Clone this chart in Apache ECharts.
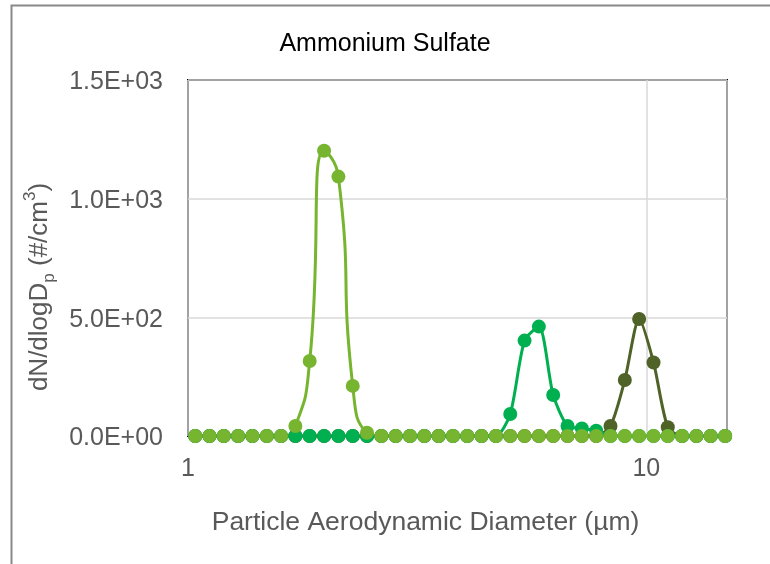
<!DOCTYPE html>
<html>
<head>
<meta charset="utf-8">
<script src="https://cdn.jsdelivr.net/npm/echarts@6/dist/echarts.min.js"></script>
<style>
html,body{margin:0;padding:0;background:#fff;}
#chart{width:770px;height:564px;}
</style>
</head>
<body>
<div id="chart"></div>
<script>
// Particle aerodynamic diameters (µm), APS channel midpoints
var diameters = [1.037, 1.114, 1.197, 1.286, 1.382, 1.486, 1.596, 1.715, 1.843, 1.981,
  2.129, 2.288, 2.458, 2.642, 2.839, 3.051, 3.278, 3.523, 3.786, 4.068,
  4.371, 4.698, 5.048, 5.425, 5.829, 6.264, 6.732, 7.234, 7.774, 8.354,
  8.977, 9.647, 10.37, 11.14, 11.97, 12.86, 13.82, 14.86];

// dN/dlogDp values (#/cm3)
var seriesSmall = [0, 0, 0, 0, 0, 0, 0, 42, 316, 1202,
  1093, 211, 14, 0, 0, 0, 0, 0, 0, 0,
  0, 0, 0, 0, 0, 0, 0, 0, 0, 0,
  0, 0, 0, 0, 0, 0, 0, 0];
var seriesMedium = [0, 0, 0, 0, 0, 0, 0, 0, 0, 0,
  0, 0, 0, 0, 0, 0, 0, 0, 0, 0,
  0, 0, 93, 402, 461, 173, 42, 32, 22, 0,
  0, 0, 0, 0, 0, 0, 0, 0];
var seriesLarge = [0, 0, 0, 0, 0, 0, 0, 0, 0, 0,
  0, 0, 0, 0, 0, 0, 0, 0, 0, 0,
  0, 0, 0, 0, 0, 0, 0, 0, 0, 42,
  236, 493, 310, 37, 0, 0, 0, 0];

var yTicks = [0, 500, 1000, 1500];
var xTickLabels = [1, 10];

function pairs(vals) {
  return diameters.map(function (d, i) { return [d, vals[i]]; });
}
function sci(v) {
  var s = Number(v).toExponential(1);
  var m = s.match(/^(-?[\d.]+)e([+-])(\d+)$/);
  var e = m[3].length < 2 ? '0' + m[3] : m[3];
  return m[1] + 'E' + m[2] + e;
}

var FONT = '"Liberation Sans", Arial, sans-serif';
var chart = echarts.init(document.getElementById('chart'), null, {renderer: 'canvas'});

function mkSeries(name, vals, color, smooth) {
  return {
    name: name,
    type: 'line',
    data: pairs(vals),
    smooth: smooth,
    clip: false,
    symbol: 'circle',
    symbolSize: 14,
    itemStyle: {color: color},
    lineStyle: {color: color, width: 3},
    emphasis: {disabled: true},
    animation: false
  };
}

chart.setOption({
  animation: false,
  backgroundColor: '#fff',
  title: {
    text: 'Ammonium Sulfate',
    left: 'center',
    top: 27,
    textStyle: {fontFamily: FONT, fontSize: 25, fontWeight: 'normal', color: '#000'}
  },
  graphic: [{
    type: 'rect',
    shape: {x: 11.5, y: 5.5, width: 800, height: 600},
    style: {fill: 'none', stroke: '#898989', lineWidth: 2},
    silent: true
  }],
  grid: {
    left: 188, top: 80, right: 43, bottom: 128,
    show: true, borderColor: '#000', borderWidth: 2, backgroundColor: 'transparent'
  },
  xAxis: {
    type: 'log',
    logBase: 10,
    min: 1,
    max: 15,
    name: 'Particle Aerodynamic Diameter (µm)',
    nameLocation: 'middle',
    nameGap: 73,
    nameTextStyle: {fontFamily: FONT, fontSize: 26.5, color: '#595959', padding: [0, 64, 0, 0]},
    axisLine: {show: false},
    axisTick: {show: false},
    axisLabel: {
      margin: 21,
      fontFamily: FONT, fontSize: 25, color: '#595959',
      showMaxLabel: false,
      formatter: function (v) {
        return xTickLabels.indexOf(Math.round(v)) >= 0 && Math.abs(v - Math.round(v)) < 1e-6 ? String(Math.round(v)) : '';
      }
    },
    splitLine: {show: true, lineStyle: {color: '#d9d9d9', width: 1.5}}
  },
  yAxis: {
    type: 'value',
    min: yTicks[0],
    max: yTicks[yTicks.length - 1],
    interval: yTicks[1] - yTicks[0],
    name: '{n|dN/dlogD}{sub|p}{n| (#/cm}{sup|3}{n|)}',
    nameLocation: 'middle',
    nameGap: 118,
    nameRotate: 90,
    nameTextStyle: {
      fontFamily: FONT, fontSize: 26, color: '#595959',
      padding: [0, 58, 0, 0],
      rich: {
        n: {fontFamily: FONT, fontSize: 26, color: '#595959', lineHeight: 36, verticalAlign: 'middle'},
        sub: {fontFamily: FONT, fontSize: 17, color: '#595959', lineHeight: 36, verticalAlign: 'bottom'},
        sup: {fontFamily: FONT, fontSize: 17, color: '#595959', lineHeight: 36, verticalAlign: 'top'}
      }
    },
    axisLine: {show: false},
    axisTick: {show: false},
    axisLabel: {
      margin: 25,
      fontFamily: FONT, fontSize: 25, color: '#595959',
      formatter: function (v) { return '{t|' + sci(v) + '}'; },
      rich: {
        t: {fontFamily: FONT, fontSize: 25, color: '#595959', padding: [5, 0, 0, 0]}
      }
    },
    splitLine: {show: true, lineStyle: {color: '#d9d9d9', width: 1.5}}
  },
  series: [
    mkSeries('Large', seriesLarge, '#4f6228', 0.25),
    mkSeries('Medium', seriesMedium, '#00b050', 0.25),
    mkSeries('Small', seriesSmall, '#77b530', 0.55)
  ]
});
</script>
</body>
</html>
